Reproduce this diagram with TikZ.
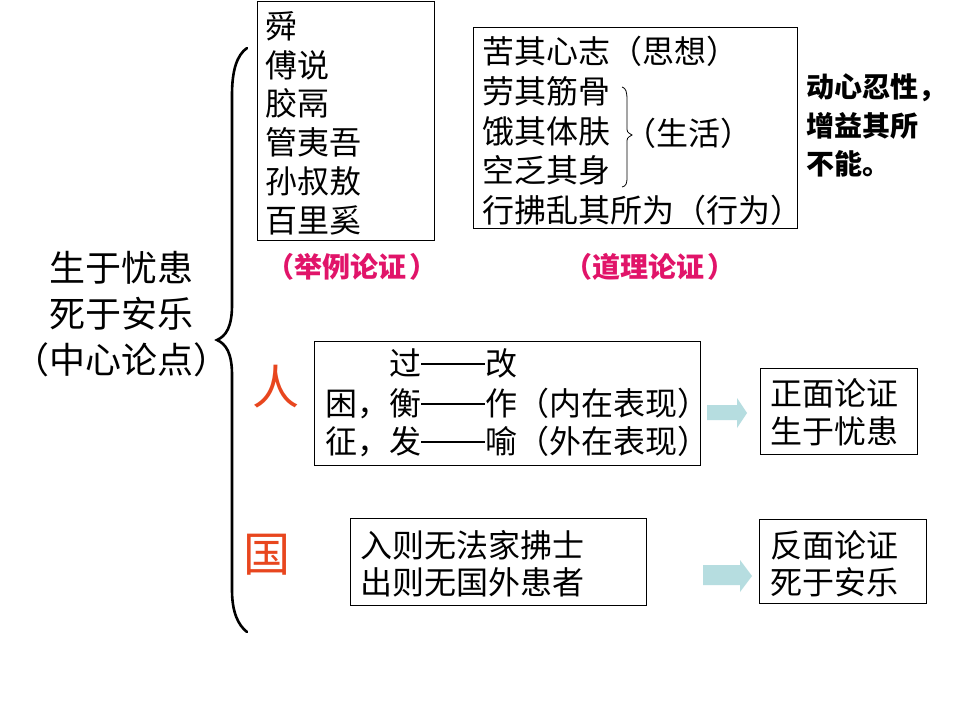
\documentclass[tikz,border=0pt]{standalone}
\usepackage{fontspec}
\newfontfamily\cjk{Noto Sans CJK SC}
\definecolor{pinkred}{RGB}{225,20,105}
\definecolor{orred}{RGB}{232,70,30}
\definecolor{arrowc}{RGB}{182,221,224}
\newcommand\longdash{\rule[0.35em]{2em}{0.055em}}
\newcommand\rpar{\hspace{0.12em}）}
\begin{document}
\begin{tikzpicture}[x=1pt,y=-1pt,
  box/.style={draw=black,line width=1pt,inner sep=0pt,outer sep=0pt,anchor=north west},
  txt/.style={anchor=west,inner sep=0pt,font=\cjk\fontsize{32}{36}\selectfont},
  bigtxt/.style={anchor=center,inner sep=0pt,font=\cjk\fontsize{36}{40}\selectfont},
  boldtxt/.style={anchor=west,inner sep=0pt,font=\cjk\bfseries\fontsize{28}{30}\selectfont},
  pinktxt/.style={anchor=west,inner sep=0pt,text=pinkred,font=\cjk\bfseries\fontsize{28}{30}\selectfont},
  redtxt/.style={anchor=center,inner sep=0pt,text=orred,font=\cjk\fontsize{47}{50}\selectfont},
  blockarrow/.style={fill=arrowc,draw=none}]
\useasboundingbox (0,0) rectangle (960,720);
\fill[white] (0,0) rectangle (960,720);

% central thesis
\node[bigtxt] (c1) at (121,268) {生于忧患};
\node[bigtxt] (c2) at (121,314) {死于安乐};
\node[bigtxt] (c3) at (121,360) {（中心论点）};

% big brace
\draw[line width=2.6pt,line cap=round] (247,48) .. controls (237,55) and (232,70) .. (232,95)
  -- (232,305) .. controls (232,327) and (226,336) .. (217,340)
  .. controls (226,344) and (232,353) .. (232,375)
  -- (232,590) .. controls (232,612) and (238,625) .. (247,632);

% example box
\node[box,minimum width=177,minimum height=239] (ex) at (257,1) {};
\node[txt] (e1) at (265,26) {舜};
\node[txt] (e2) at (265,65) {傅说};
\node[txt] (e3) at (265,103) {胶鬲};
\node[txt] (e4) at (265,142) {管夷吾};
\node[txt] (e5) at (265,181) {孙叔敖};
\node[txt] (e6) at (265,220) {百里奚};
\node[pinktxt] (l1) at (266,267) {（举例论证\rpar};

% reasoning box
\node[box,minimum width=324,minimum height=201] (rs) at (473,27) {};
\node[txt] (r1) at (482,51) {苦其心志（思想）};
\node[txt] (r2) at (482,91) {劳其筋骨};
\node[txt] (r3) at (482,131) {饿其体肤};
\node[txt] (r4) at (482,170) {空乏其身};
\node[txt] (r5) at (482,210) {行拂乱其所为（行为）};
\draw[line width=0.8pt] (622,87) .. controls (626,88) and (627,92) .. (627,100)
  -- (627,127) .. controls (627,132) .. (632,135)
  .. controls (627,138) .. (627,143)
  -- (627,177) .. controls (627,184) and (626,186) .. (622,187);
\node[txt] (r6) at (624,133) {（生活）};
\node[pinktxt] (l2) at (564,267) {（道理论证\rpar};

% right bold text
\node[boldtxt] (k1) at (806,88) {动心忍性，};
\node[boldtxt] (k2) at (806,126) {增益其所};
\node[boldtxt] (k3) at (806,164) {不能。};

% person
\node[redtxt] (ren) at (276,387) {人};
\node[box,minimum width=386,minimum height=124] (pb) at (314,341) {};
\node[txt] (p1) at (325,364) {\phantom{困，}过\longdash 改};
\node[txt] (p2) at (325,404) {困，衡\longdash 作（内在表现）};
\node[txt] (p3) at (325,442) {征，发\longdash 喻（外在表现）};

\node[box,minimum width=157,minimum height=86] (pos) at (760,368) {};
\node[txt] (q1) at (770,393) {正面论证};
\node[txt] (q2) at (770,431) {生于忧患};

\coordinate (a1) at (707,413);
\fill[blockarrow] (a1) ++(0,-8) -- ++(30,0) -- ++(0,-7) -- (747,413) -- (737,428) -- (737,420) -- (707,420) -- cycle;

% state
\node[redtxt] (guo) at (267,555) {国};
\node[box,minimum width=296,minimum height=87] (sb) at (350,518) {};
\node[txt] (s1) at (360,545) {入则无法家拂士};
\node[txt] (s2) at (360,582) {出则无国外患者};

\node[box,minimum width=167,minimum height=84] (neg) at (759,519) {};
\node[txt] (n1) at (770,545) {反面论证};
\node[txt] (n2) at (770,582) {死于安乐};

\coordinate (a2) at (703,575);
\fill[blockarrow] (a2) ++(0,-10) -- ++(37,0) -- ++(0,-5) -- (752,576) -- (740,592) -- (740,585) -- (703,585) -- cycle;
\end{tikzpicture}
\end{document}
